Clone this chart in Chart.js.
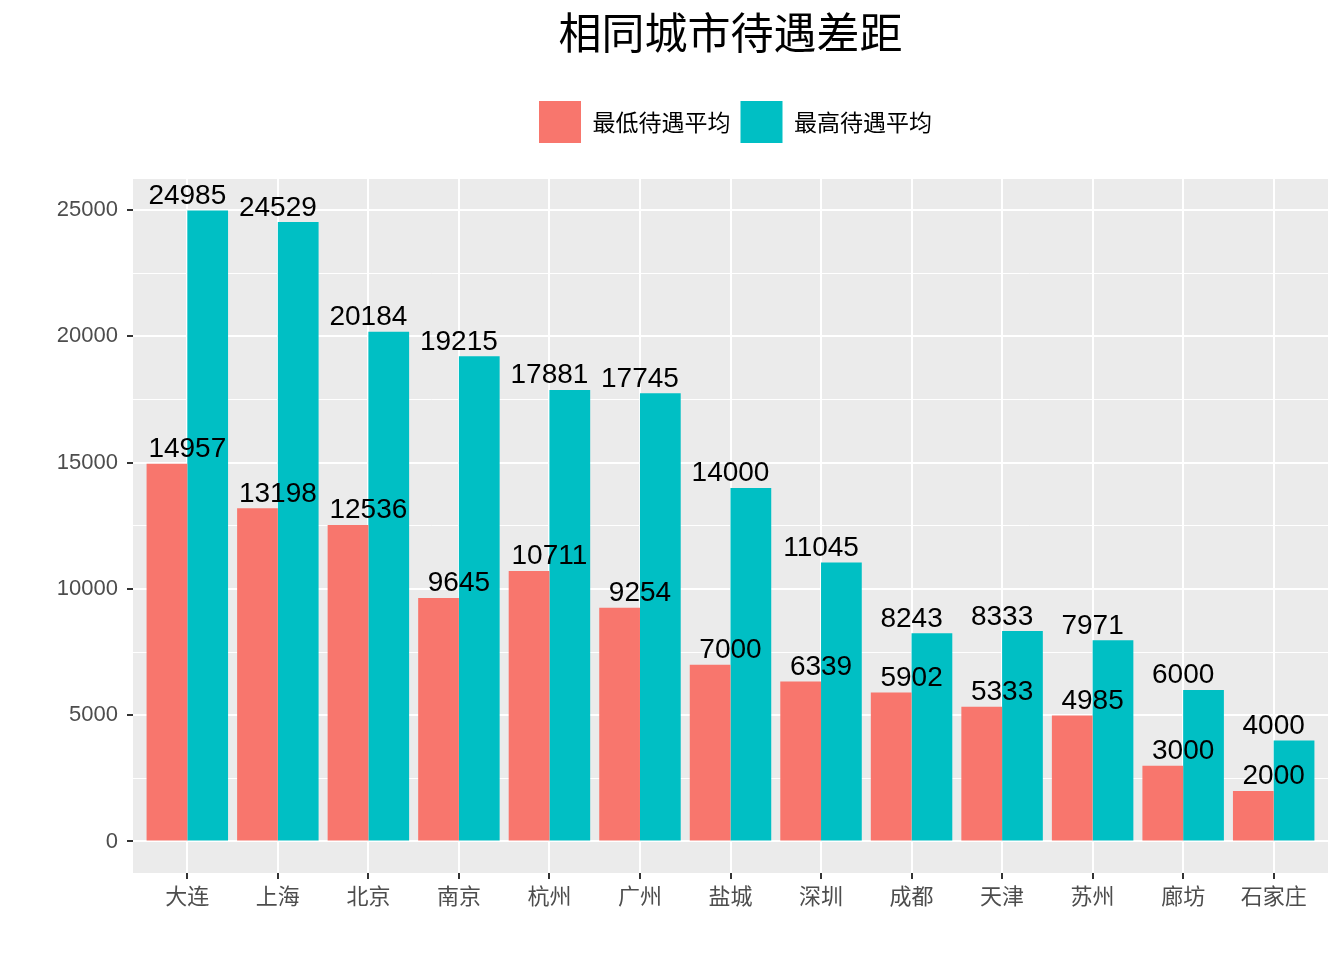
<!DOCTYPE html>
<html><head><meta charset="utf-8">
<script src="https://cdn.jsdelivr.net/npm/chart.js@4.4.1/dist/chart.umd.min.js"></script>
<style>html,body{margin:0;padding:0;background:#fff}canvas{display:block}</style>
</head><body>
<canvas id="c" width="1344" height="960"></canvas>
<script>
const titleText = '相同城市待遇差距';
const cities = ['大连','上海','北京','南京','杭州','广州','盐城','深圳','成都','天津','苏州','廊坊','石家庄'];
const seriesNames = ['最低待遇平均','最高待遇平均'];
const lowAvg = [14957,13198,12536,9645,10711,9254,7000,6339,5902,5333,4985,3000,2000];
const highAvg = [24985,24529,20184,19215,17881,17745,14000,11045,8243,8333,7971,6000,4000];
const yMajorTicks = [0,5000,10000,15000,20000,25000];
const yMinorTicks = [2500,7500,12500,17500,22500];
const colors = ['#F8766D','#00BFC4'];

const CJK = '"Noto Sans CJK SC", "Noto Sans", sans-serif';
const LAT = '"Liberation Sans", Arial, sans-serif';

const dataMax = Math.max(...lowAvg, ...highAvg);
const yMin = -0.05 * dataMax, yMax = dataMax * 1.05;

const ggPlugin = {
  id: 'gg',
  afterInit(chart) {
    const lg = chart.legend;
    if (lg && !lg._patched) {
      const orig = lg.fit;
      lg.fit = function() {
        orig.call(this);
        this.height = 88;
        if (this.lineWidths && this.lineWidths.length) this.lineWidths[0] -= this.options.labels.padding;
      };
      lg._patched = true;
    }
  },
  beforeDraw(chart) {
    const {ctx, chartArea: a} = chart;
    ctx.save();
    ctx.fillStyle = '#FFFFFF';
    ctx.fillRect(0, 0, chart.width, chart.height);
    ctx.fillStyle = '#EBEBEB';
    ctx.fillRect(a.left, a.top, a.right - a.left, a.bottom - a.top);
    ctx.restore();
  },
  afterDatasetsDraw(chart) {
    const {ctx} = chart;
    const xs = chart.scales.x, ys = chart.scales.y;
    ctx.save();
    ctx.fillStyle = '#000000';
    ctx.font = '28px ' + LAT;
    ctx.textAlign = 'center';
    ctx.textBaseline = 'alphabetic';
    [lowAvg, highAvg].forEach(arr => {
      arr.forEach((v, i) => {
        ctx.fillText(String(v), xs.getPixelForValue(i), ys.getPixelForValue(v) - 6.5);
      });
    });
    ctx.restore();
  }
};

new Chart(document.getElementById('c'), {
  type: 'bar',
  data: {
    datasets: [
      {label: seriesNames[0], data: lowAvg.map((v, i) => ({x: i, y: v})), backgroundColor: colors[0], borderWidth: 0, categoryPercentage: 0.9, barPercentage: 1.0},
      {label: seriesNames[1], data: highAvg.map((v, i) => ({x: i, y: v})), backgroundColor: colors[1], borderWidth: 0, categoryPercentage: 0.9, barPercentage: 1.0}
    ]
  },
  options: {
    responsive: false,
    animation: false,
    devicePixelRatio: 1,
    layout: {padding: {top: 0, left: 0, right: 16, bottom: 0}},
    plugins: {
      title: {display: true, text: titleText, fullSize: false, color: '#000000',
        font: {family: CJK, size: 43, weight: 'normal'}, padding: {top: 7, bottom: 32.4}},
      legend: {display: true, position: 'top', fullSize: false,
        labels: {boxWidth: 42, boxHeight: 42, color: '#000000', padding: 10,
          font: {family: CJK, size: 23}}},
      tooltip: {enabled: false}
    },
    scales: {
      x: {
        type: 'linear', min: -0.6, max: cities.length - 1 + 0.6, offset: false,
        afterBuildTicks: s => { s.ticks = cities.map((c, i) => ({value: i})); },
        afterFit: s => { s.height = 87; },
        ticks: {callback: v => cities[v] ?? '', font: {family: CJK, size: 22}, color: '#4D4D4D', padding: 3, maxRotation: 0, autoSkip: false},
        grid: {offset: false, color: '#FFFFFF', lineWidth: 2, tickColor: '#333333', tickWidth: 2, tickLength: 6},
        border: {display: false}
      },
      y: {
        type: 'linear', min: yMin, max: yMax,
        afterBuildTicks: s => { s.ticks = [...yMajorTicks, ...yMinorTicks].sort((a, b) => a - b).map(v => ({value: v})); },
        afterFit: s => { s.width = 133; },
        ticks: {callback: v => yMajorTicks.includes(v) ? String(v) : '', font: {family: LAT, size: 22}, color: '#4D4D4D', padding: 9, autoSkip: false},
        grid: {color: '#FFFFFF',
          lineWidth: c => yMajorTicks.includes(c.tick && c.tick.value) ? 2 : 1,
          tickColor: c => yMajorTicks.includes(c.tick && c.tick.value) ? '#333333' : 'rgba(0,0,0,0)',
          tickWidth: 2, tickLength: 6},
        border: {display: false}
      }
    }
  },
  plugins: [ggPlugin]
});
</script>
</body></html>
